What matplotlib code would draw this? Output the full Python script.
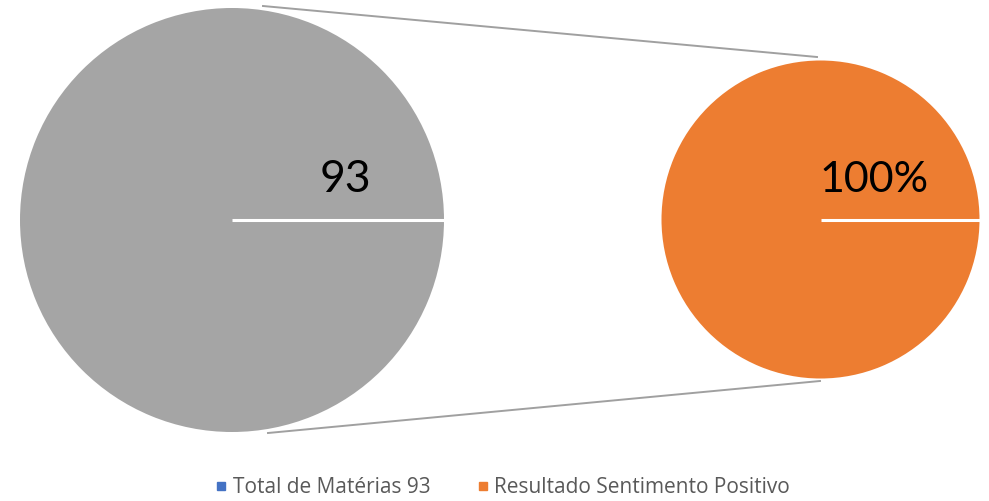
import matplotlib.pyplot as plt
from matplotlib.lines import Line2D

# data
main_label = "Total de Matérias 93"
main_values = [93]
sub_label = "Resultado Sentimento Positivo"
sub_values = [100]  # percent
main_text = "93"
sub_text = "100%"

gray = "#A5A5A5"
orange = "#ED7D31"
blue = "#4472C4"

plt.rcParams['font.family'] = ['Lato', 'DejaVu Sans']

fig = plt.figure(figsize=(9.89, 5.01), dpi=100)
ax = fig.add_axes([0, 0, 1, 1])

# pies (pixel coords)
c1, r1 = (232, 220), 212
c2, r2 = (820.5, 219.5), 159
ax.pie(main_values, colors=[gray], center=c1, radius=r1, startangle=0,
       frame=True, wedgeprops=dict(linewidth=0))
ax.pie(sub_values, colors=[orange], center=c2, radius=r2, startangle=0,
       frame=True, wedgeprops=dict(linewidth=0))
ax.set_xlim(0, 989)
ax.set_ylim(501, 0)
ax.set_aspect('equal')
ax.axis('off')

# slice boundary lines
ax.plot([c1[0], c1[0] + r1], [c1[1], c1[1]], color='white', lw=2.2, solid_capstyle='butt')
ax.plot([c2[0], c2[0] + r2], [c2[1], c2[1]], color='white', lw=2.2, solid_capstyle='butt')

# connector lines
ax.plot([263, 817], [6, 57], color='#A0A0A0', lw=1.4)
ax.plot([268, 820], [433, 381], color='#A0A0A0', lw=1.4)

# labels
ax.text(345, 180, main_text, ha='center', va='center', fontsize=32, color='black')
ax.text(874, 180, sub_text, ha='center', va='center', fontsize=31, color='black')

handles = [Line2D([], [], marker='s', ls='', color=blue, markersize=5.5),
           Line2D([], [], marker='s', ls='', color=orange, markersize=5.5)]
fig.legend(handles, [main_label, sub_label], loc='center', bbox_to_anchor=(0.508, 0.027),
           ncol=2, frameon=False, prop={'family': 'Open Sans', 'size': 15},
           labelcolor='#595959',
           handlelength=0.6, handletextpad=0.25, columnspacing=2.2)

fig.savefig('out.png', dpi=100)
